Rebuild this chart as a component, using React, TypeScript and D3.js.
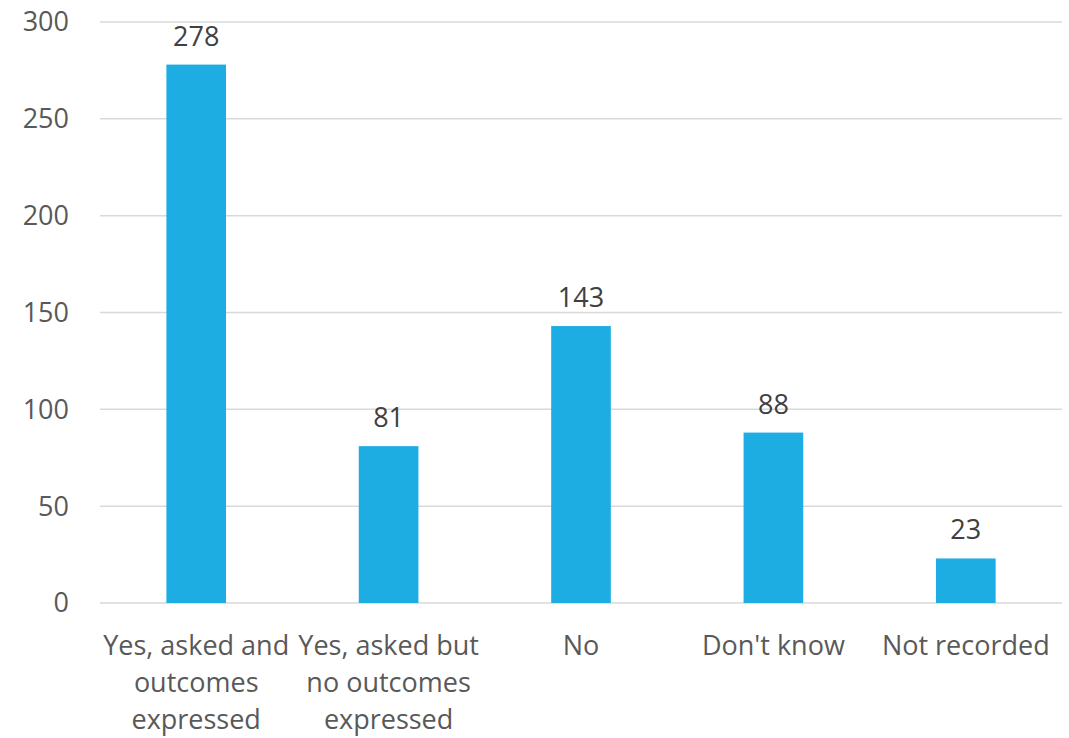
import React, { useEffect, useRef } from "react";
import * as d3 from "d3";

const categories: string[] = [
  "Yes, asked and outcomes expressed",
  "Yes, asked but no outcomes expressed",
  "No",
  "Don't know",
  "Not recorded",
];
const values: number[] = [278, 81, 143, 88, 23];
const yTicks: number[] = [0, 50, 100, 150, 200, 250, 300];

const W = 1069;
const H = 738;
const margin = { left: 100, right: 7, top: 22, bottom: 135 };
const FONT = "'Open Sans', sans-serif";
const FS = 27;

export default function App() {
  const ref = useRef<SVGSVGElement | null>(null);

  useEffect(() => {
    const svg = d3.select(ref.current);
    svg.selectAll("*").remove();

    const x = d3
      .scaleBand<string>()
      .domain(categories)
      .range([margin.left, W - margin.right])
      .paddingInner(0.69)
      .paddingOuter(0.345);
    const y = d3
      .scaleLinear()
      .domain([0, 300])
      .range([H - margin.bottom, margin.top]);

    svg
      .append("g")
      .selectAll("line")
      .data(yTicks)
      .join("line")
      .attr("x1", margin.left)
      .attr("x2", W - margin.right)
      .attr("y1", (d) => y(d))
      .attr("y2", (d) => y(d))
      .attr("stroke", "#d9d9d9")
      .attr("stroke-width", 1.5);

    svg
      .append("g")
      .selectAll("text")
      .data(yTicks)
      .join("text")
      .attr("x", 69)
      .attr("y", (d) => y(d))
      .attr("dy", "0.35em")
      .attr("text-anchor", "end")
      .attr("font-family", FONT)
      .attr("font-size", FS)
      .attr("fill", "#595959")
      .text((d) => String(d));

    svg
      .append("g")
      .selectAll("rect")
      .data(values)
      .join("rect")
      .attr("x", (_, i) => x(categories[i])!)
      .attr("width", x.bandwidth())
      .attr("y", (d) => y(d))
      .attr("height", (d) => y(0) - y(d))
      .attr("fill", "#1eade3");

    svg
      .append("g")
      .selectAll("text")
      .data(values)
      .join("text")
      .attr("x", (_, i) => x(categories[i])! + x.bandwidth() / 2)
      .attr("y", (d) => y(d) - 19)
      .attr("text-anchor", "middle")
      .attr("font-family", FONT)
      .attr("font-size", FS)
      .attr("fill", "#404040")
      .text((d) => String(d));

    const step = x.step();
    const g = svg.append("g");
    const base = 655;
    categories.forEach((c) => {
      const cx = x(c)! + x.bandwidth() / 2;
      const t = g
        .append("text")
        .attr("x", cx)
        .attr("y", base)
        .attr("text-anchor", "middle")
        .attr("font-family", FONT)
        .attr("font-size", FS)
        .attr("fill", "#595959");
      const words = c.split(" ");
      let line: string[] = [];
      let lineNo = 0;
      let tspan = t.append("tspan").attr("x", cx).attr("y", base);
      for (const w of words) {
        line.push(w);
        tspan.text(line.join(" "));
        if ((tspan.node() as SVGTSpanElement).getComputedTextLength() > step && line.length > 1) {
          line.pop();
          tspan.text(line.join(" "));
          line = [w];
          lineNo++;
          tspan = t
            .append("tspan")
            .attr("x", cx)
            .attr("y", base + lineNo * 37)
            .text(w);
        }
      }
    });
  }, []);

  return <svg ref={ref} width={W} height={H} style={{ display: "block", position: "absolute", left: 0, top: 0 }} />;
}
